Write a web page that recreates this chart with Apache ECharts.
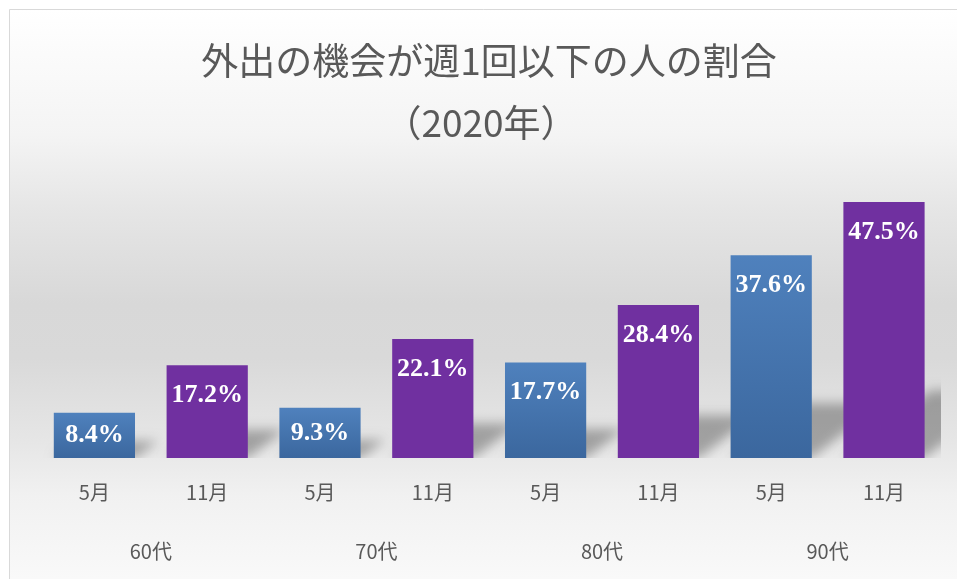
<!DOCTYPE html>
<html><head><meta charset="utf-8">
<script src="https://cdn.jsdelivr.net/npm/echarts@6/dist/echarts.min.js"></script>
<style>html,body{margin:0;padding:0;background:#fff}#c{width:957px;height:579px}</style>
</head><body><div id="c"></div>
<script>
const titleLine1 = '外出の機会が週1回以下の人の割合';
const titleLine2 = '（2020年）';
const months = ['5月', '11月', '5月', '11月', '5月', '11月', '5月', '11月'];
const ageGroups = ['60代', '70代', '80代', '90代'];
const values = [8.4, 17.2, 9.3, 22.1, 17.7, 28.4, 37.6, 47.5];

const chart = echarts.init(document.getElementById('c'), null, { renderer: 'canvas' });
const blue = new echarts.graphic.LinearGradient(0, 0, 0, 1, [
  { offset: 0, color: '#4f81bd' }, { offset: 1, color: '#3b679e' }]);
const purple = '#7030a0';
const barData = values.map((v, i) => ({
  value: v,
  itemStyle: { color: months[i] === '5月' ? blue : purple },
  label: { position: v < 10 ? 'inside' : 'insideTop' }
}));
const bg = new echarts.graphic.LinearGradient(0, 0, 0, 1, [
  { offset: 0, color: '#ffffff' },
  { offset: 0.21, color: '#f4f4f4' },
  { offset: 0.33, color: '#e6e6e6' },
  { offset: 0.49, color: '#d8d8d8' },
  { offset: 0.58, color: '#d9d9d9' },
  { offset: 0.72, color: '#e6e6e6' },
  { offset: 0.81, color: '#f1f1f1' },
  { offset: 1, color: '#fcfcfc' }]);

const font = '"Noto Sans CJK JP", "Noto Sans", sans-serif';
const SHIFT = 2000;
chart.setOption({
  animation: false,
  graphic: { elements: [
    { type: 'rect', z: -10, silent: true, shape: { x: 9.5, y: 9.5, width: 980, height: 600 },
      style: { fill: bg, stroke: '#d9d9d9', lineWidth: 1 } },
    { type: 'text', z: 5, x: 489, y: 61, style: { text: titleLine1, font: 'normal 37px ' + font, fill: '#595959', align: 'center', verticalAlign: 'middle' } },
    { type: 'text', z: 5, x: 481, y: 123, style: { text: titleLine2, font: 'normal 37px ' + font, fill: '#595959', align: 'center', verticalAlign: 'middle' } }
  ] },
  grid: { left: 38, right: 16.6, top: 188.5, bottom: 121 },
  xAxis: [
    { type: 'category', data: months, position: 'bottom',
      axisLine: { show: false }, axisTick: { show: false },
      axisLabel: { color: '#595959', fontSize: 20, margin: 24, fontFamily: font } },
    { type: 'category', data: ageGroups, position: 'bottom',
      axisLine: { show: false }, axisTick: { show: false },
      axisLabel: { color: '#595959', fontSize: 20, margin: 83, fontFamily: font } }
  ],
  yAxis: { type: 'value', min: 0, max: 50, show: false },
  series: [
    {
      type: 'custom', z: 1, clip: true, silent: true, xAxisIndex: 0, yAxisIndex: 0,
      data: values.map((v, i) => [i, v]),
      renderItem: function (params, api) {
        const idx = api.value(0);
        const v = api.value(1);
        const base = api.coord([idx, 0]);
        const top = api.coord([idx, v]);
        const w = api.size([1, 0])[0] * 0.72;
        const h = base[1] - top[1];
        const x0 = base[0] - w / 2 - SHIFT, x1 = base[0] + w / 2 - SHIFT, y = base[1];
        const kh = 0.24 * h + 6, dx = 0.3 * h + 10;
        return { type: 'polygon', shape: { points: [[x0, y], [x1, y], [x1 + dx, y - kh], [x0 + dx, y - kh]] },
          style: { fill: 'rgba(0,0,0,1)', shadowBlur: 12, shadowOffsetX: SHIFT, shadowOffsetY: 0, shadowColor: 'rgba(0,0,0,0.3)' } };
      }
    },
    {
      type: 'bar', z: 3, xAxisIndex: 0, yAxisIndex: 0, barWidth: '72%',
      data: barData,
      label: { show: true, distance: 17, color: '#ffffff', fontSize: 26, fontWeight: 'bold',
        fontFamily: '"Liberation Serif", "DejaVu Serif", serif', formatter: p => p.value.toFixed(1) + '%' }
    }
  ]
});
</script></body></html>
